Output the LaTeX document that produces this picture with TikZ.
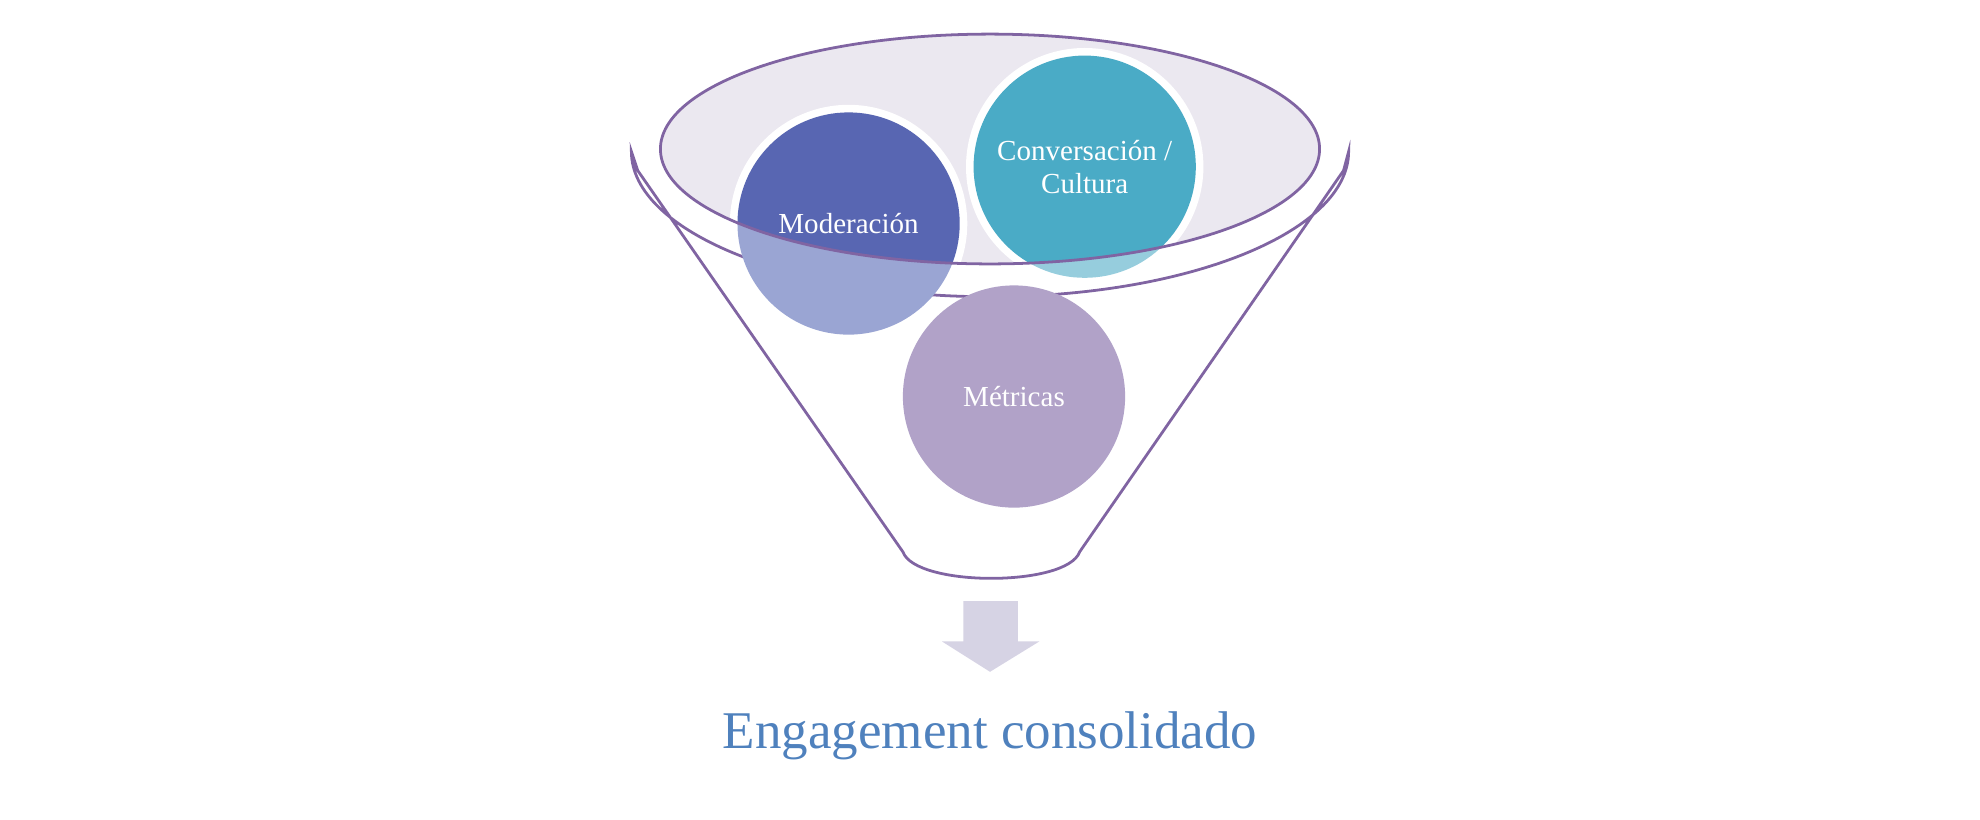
\documentclass[tikz,border=0pt]{standalone}
\usepackage{fontspec}
\setmainfont{Liberation Serif}
\begin{document}
\begin{tikzpicture}[x=0.5pt,y=-0.5pt,
  rim/.style={draw=purpleline,line width=1.1pt},
  lbl/.style={text=white,font=\fontsize{11.5}{13}\selectfont,align=center}]
\definecolor{purpleline}{HTML}{8064A2}
\definecolor{inner}{HTML}{EBE8F0}
\definecolor{modD}{HTML}{5866B2}\definecolor{modL}{HTML}{9AA5D3}
\definecolor{conD}{HTML}{4AABC6}\definecolor{conL}{HTML}{96CDDD}
\definecolor{met}{HTML}{B1A2C8}
\definecolor{arr}{HTML}{D6D3E4}
\definecolor{title}{HTML}{4F81BD}
\useasboundingbox (0,0) rectangle (1568,648.6);
% funnel body
\draw[rim] (500,120) arc[start angle=180,end angle=0,x radius=284,y radius=115]
  -- (1064,135) -- (855,437) .. controls (845,465) and (725,465) .. (715,437)
  -- (505,135) -- cycle;
% light circles
\fill[modL] (672,177) circle (88);
\fill[conL] (859,132) circle (88);
\fill[met] (803,314) circle (88);
% inner ellipse
\fill[inner] (784,118) ellipse [x radius=261,y radius=91];
\begin{scope}
\clip (784,118) ellipse [x radius=261,y radius=91];
\fill[white] (672,177) circle (94);
\fill[modD] (672,177) circle (88);
\fill[white] (859,132) circle (94);
\fill[conD] (859,132) circle (88);
\end{scope}
\draw[rim] (784,118) ellipse [x radius=261,y radius=91];
\node[lbl] (mod) at (672,177) {Moderación};
\node[lbl] (con) at (859,132) {Conversación /\\Cultura};
\node[lbl] (me) at (803,314) {Métricas};
% arrow
\fill[arr] (763,476) -- (806,476) -- (806,508) -- (823,508) -- (784,532) -- (746,508) -- (763,508) -- cycle;
\node[text=title,font=\fontsize{21}{24}\selectfont] (t) at (784,583) {Engagement consolidado};
\end{tikzpicture}
\end{document}
